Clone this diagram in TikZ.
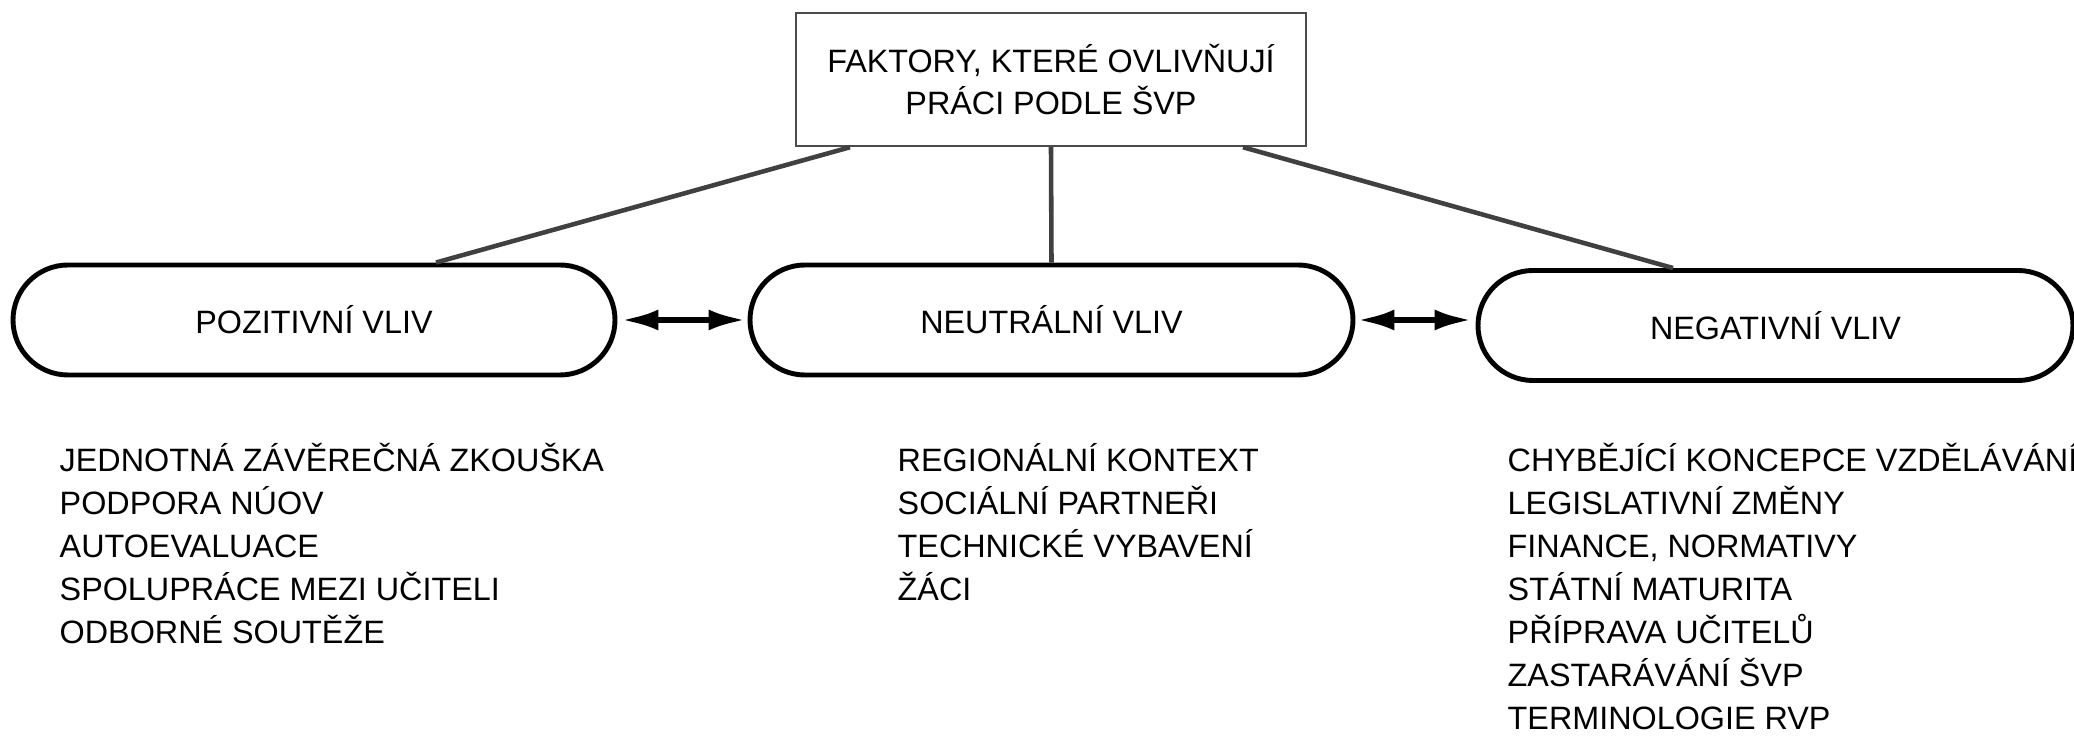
\documentclass[tikz,border=0pt]{standalone}
\usepackage{fontspec}
\setmainfont{Liberation Sans}
\usetikzlibrary{arrows.meta}

\begin{document}
\begin{tikzpicture}[
    every node/.style={font=\fontsize{9.2}{12.2}\selectfont},
    factorbox/.style={draw=black!70, line width=0.7pt, minimum width=5.1cm,
        minimum height=1.33cm, align=center},
    pill/.style={draw, line width=1.4pt, rounded corners=0.55cm, minimum height=1.1cm},
    link/.style={draw=black!75, line width=1.3pt},
    twoway/.style={{Latex[length=3.7mm,width=2.1mm]}-{Latex[length=3.7mm,width=2.1mm]},
        line width=1.6pt},
    listitem/.style={anchor=base west, inner sep=0pt}]
    \useasboundingbox (0,0) rectangle (20.74,7.36);

    % Top box
    \node[factorbox] (top) at (10.51,6.565) {FAKTORY, KTERÉ OVLIVŇUJÍ\\PRÁCI PODLE ŠVP};

    % Three kinds of influence
    \node[pill, minimum width=6.02cm] (pos) at (3.14,4.16) {POZITIVNÍ VLIV};
    \node[pill, minimum width=6.03cm] (neu) at (10.515,4.16) {NEUTRÁLNÍ VLIV};
    \node[pill, minimum width=5.95cm] (neg) at (17.755,4.105) {NEGATIVNÍ VLIV};

    % Links from the top box
    \draw[link] ([xshift=-2.01cm]top.south) -- ([xshift=1.22cm]pos.north);
    \draw[link] (top.south) -- (neu.north);
    \draw[link] ([xshift=1.92cm]top.south) -- ([xshift=-1.025cm]neg.north);

    % Double arrows between the pills
    \draw[twoway, shorten <=0.04cm, shorten >=0.02cm] (pos.east) -- (neu.west);
    \draw[twoway, shorten <=0.02cm, shorten >=0.04cm] (neu.east) -- (neu.east -| neg.west);

    % Lists under the pills
    \foreach \t [count=\i] in {JEDNOTNÁ ZÁVĚREČNÁ ZKOUŠKA, PODPORA NÚOV, AUTOEVALUACE,
            SPOLUPRÁCE MEZI UČITELI, ODBORNÉ SOUTĚŽE}
        \node[listitem] (pos\i) at (0.59,{2.64-0.43*(\i-1)}) {\t};

    \foreach \t [count=\i] in {REGIONÁLNÍ KONTEXT, SOCIÁLNÍ PARTNEŘI,
            TECHNICKÉ VYBAVENÍ, ŽÁCI}
        \node[listitem] (neu\i) at (8.97,{2.64-0.43*(\i-1)}) {\t};

    \foreach \t [count=\i] in {CHYBĚJÍCÍ KONCEPCE VZDĚLÁVÁNÍ, LEGISLATIVNÍ ZMĚNY,
            {FINANCE, NORMATIVY}, STÁTNÍ MATURITA, PŘÍPRAVA UČITELŮ,
            ZASTARÁVÁNÍ ŠVP, TERMINOLOGIE RVP}
        \node[listitem] (neg\i) at (15.07,{2.64-0.43*(\i-1)}) {\t};
\end{tikzpicture}
\end{document}
